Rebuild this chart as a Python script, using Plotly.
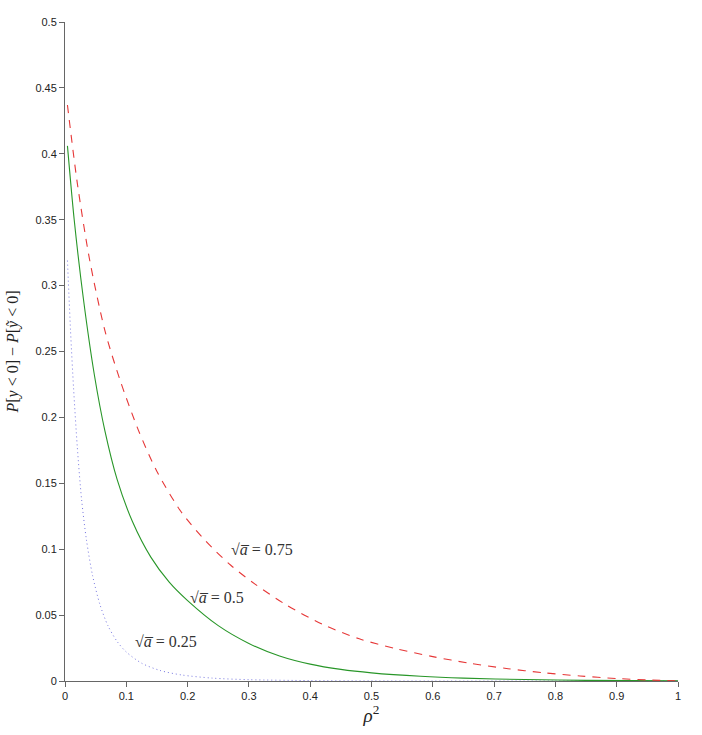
import plotly.graph_objects as go

# sqrt(a) = 0.75 (red dashed)
x_075 = [0.004, 0.02, 0.04, 0.065, 0.09, 0.12, 0.15, 0.19, 0.23, 0.27, 0.31, 0.36, 0.42,
         0.48, 0.54, 0.60, 0.66, 0.72, 0.78, 0.84, 0.90, 0.95, 1.0]
y_075 = [0.437, 0.378, 0.320, 0.266, 0.228, 0.190, 0.159, 0.128, 0.106, 0.088, 0.0735, 0.058, 0.043,
         0.032, 0.0245, 0.0185, 0.0135, 0.0095, 0.0063, 0.0038, 0.0019, 0.0008, 0.0001]

# sqrt(a) = 0.5 (green solid)
x_050 = [0.004, 0.015, 0.03, 0.048, 0.065, 0.085, 0.11, 0.14, 0.17, 0.2, 0.25, 0.3, 0.35, 0.4,
         0.45, 0.5, 0.58, 0.65, 0.75, 0.85, 1.0]
y_050 = [0.406, 0.350, 0.290, 0.232, 0.190, 0.153, 0.121, 0.094, 0.075, 0.061, 0.042, 0.0285, 0.019,
         0.0128, 0.0088, 0.0062, 0.0036, 0.0022, 0.0011, 0.0005, 0.0001]

# sqrt(a) = 0.25 (blue dotted)
x_025 = [0.004, 0.009, 0.014, 0.02, 0.027, 0.035, 0.045, 0.057, 0.07, 0.085, 0.1, 0.125, 0.155,
         0.19, 0.24, 0.3, 0.4, 0.5, 0.6, 0.8, 1.0]
y_025 = [0.319, 0.266, 0.222, 0.178, 0.138, 0.107, 0.080, 0.058, 0.042, 0.030, 0.022, 0.0135, 0.0080,
         0.0046, 0.0022, 0.001, 0.0003, 0.0001, 0.0, 0.0, 0.0]

labels = ["√<i>a̅</i> = 0.75", "√<i>a̅</i> = 0.5", "√<i>a̅</i> = 0.25"]
label_x = [0.268, 0.200, 0.111]
label_y = [0.1, 0.0637, 0.0296]

x_ticks = [0, 0.1, 0.2, 0.3, 0.4, 0.5, 0.6, 0.7, 0.8, 0.9, 1]
x_ticktext = ["0", "0.1", "0.2", "0.3", "0.4", "0.5", "0.6", "0.7", "0.8", "0.9", "1"]
y_ticks = [0, 0.05, 0.1, 0.15, 0.2, 0.25, 0.3, 0.35, 0.4, 0.45, 0.5]
y_ticktext = ["0", "0.05", "0.1", "0.15", "0.2", "0.25", "0.3", "0.35", "0.4", "0.45", "0.5"]

fig = go.Figure()
fig.add_trace(go.Scatter(x=x_025, y=y_025, mode="lines", line=dict(color="rgb(120,120,225)", width=1, dash="1px,3px", shape="spline", smoothing=0.8), showlegend=False))
fig.add_trace(go.Scatter(x=x_050, y=y_050, mode="lines", line=dict(color="rgb(40,150,40)", width=1.1, shape="spline", smoothing=0.8), showlegend=False))
fig.add_trace(go.Scatter(x=x_075, y=y_075, mode="lines", line=dict(color="rgb(230,55,55)", width=1.1, dash="8px,7px", shape="spline", smoothing=0.8), showlegend=False))

for t, lx, ly in zip(labels, label_x, label_y):
    fig.add_annotation(x=lx, y=ly, text=t, showarrow=False, xanchor="left", yanchor="middle",
                       font=dict(family="Liberation Serif", size=16, color="#333"))

axis_common = dict(showline=True, linecolor="#666", linewidth=1, ticks="outside", ticklen=5,
                   tickcolor="#666", showgrid=False, zeroline=False,
                   tickfont=dict(family="Liberation Sans, Arial", size=11, color="#222"))

fig.update_layout(
    width=702, height=735,
    margin=dict(l=65, r=24, t=22, b=54),
    paper_bgcolor="white", plot_bgcolor="white",
    xaxis=dict(range=[0, 1], tickvals=x_ticks, ticktext=x_ticktext,
               title=dict(text="<i>ρ</i><sup>2</sup>", font=dict(family="Liberation Serif", size=19, color="#222"), standoff=4),
               **axis_common),
    yaxis=dict(range=[0, 0.5], tickvals=y_ticks, ticktext=y_ticktext,
               title=dict(text="<i>P</i>[<i>y</i> &lt; 0] − <i>P</i>[<i>ỹ</i> &lt; 0]", font=dict(family="Liberation Serif", size=16, color="#222"), standoff=12),
               **axis_common),
)

fig.write_html("out.html")
